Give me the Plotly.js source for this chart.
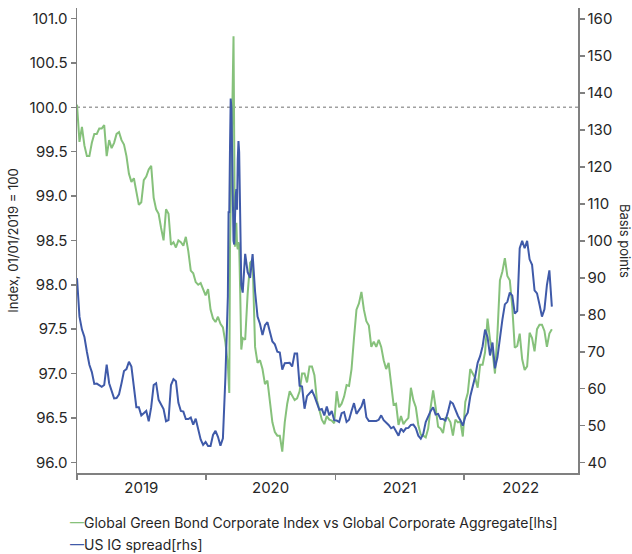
<!DOCTYPE html>
<html>
<head>
<meta charset="utf-8">
<script src="https://cdn.plot.ly/plotly-3.0.1.min.js"></script>
<style>
html,body{margin:0;padding:0;background:#fff;}
#chart{width:632px;height:554px;}
</style>
</head>
<body>
<div id="chart"></div>
<script>
const dates = [
'2019-01-01','2019-01-08','2019-01-15','2019-01-22','2019-01-29','2019-02-05','2019-02-12','2019-02-19','2019-02-26','2019-03-05',
'2019-03-12','2019-03-19','2019-03-26','2019-04-02','2019-04-09','2019-04-16','2019-04-23','2019-04-30','2019-05-07','2019-05-14',
'2019-05-21','2019-05-28','2019-06-04','2019-06-11','2019-06-18','2019-06-25','2019-07-02','2019-07-09','2019-07-16','2019-07-23',
'2019-07-30','2019-08-06','2019-08-13','2019-08-20','2019-08-27','2019-09-03','2019-09-10','2019-09-17','2019-09-24','2019-10-01',
'2019-10-08','2019-10-15','2019-10-22','2019-10-29','2019-11-05','2019-11-12','2019-11-19','2019-11-26','2019-12-03','2019-12-10',
'2019-12-17','2019-12-24','2019-12-31',
'2020-01-07','2020-01-14','2020-01-21','2020-01-28','2020-02-04','2020-02-11','2020-02-18','2020-02-25',
'2020-03-03','2020-03-05','2020-03-07','2020-03-09','2020-03-11','2020-03-13','2020-03-15','2020-03-17','2020-03-19','2020-03-21',
'2020-03-23','2020-03-25','2020-03-27','2020-03-29','2020-03-31','2020-04-02','2020-04-04','2020-04-07','2020-04-10','2020-04-14',
'2020-04-21','2020-04-28','2020-05-05','2020-05-12','2020-05-19','2020-05-26','2020-06-02','2020-06-09','2020-06-16','2020-06-23',
'2020-06-30','2020-07-07','2020-07-14','2020-07-21','2020-07-28','2020-08-04','2020-08-11','2020-08-18','2020-08-25','2020-09-01',
'2020-09-08','2020-09-15','2020-09-22','2020-09-29','2020-10-06','2020-10-13','2020-10-20','2020-10-27','2020-11-03','2020-11-10',
'2020-11-17','2020-11-24','2020-12-01','2020-12-08','2020-12-15','2020-12-22','2020-12-29',
'2021-01-05','2021-01-12','2021-01-19','2021-01-26','2021-02-02','2021-02-09','2021-02-16','2021-02-23','2021-03-02','2021-03-09',
'2021-03-16','2021-03-23','2021-03-30','2021-04-06','2021-04-13','2021-04-20','2021-04-27','2021-05-04','2021-05-11','2021-05-18',
'2021-05-25','2021-06-01','2021-06-08','2021-06-15','2021-06-22','2021-06-29','2021-07-06','2021-07-13','2021-07-20','2021-07-27',
'2021-08-03','2021-08-10','2021-08-17','2021-08-24','2021-08-31','2021-09-07','2021-09-14','2021-09-21','2021-09-28','2021-10-05',
'2021-10-12','2021-10-19','2021-10-26','2021-11-02','2021-11-09','2021-11-16','2021-11-23','2021-11-30','2021-12-07','2021-12-14',
'2021-12-21','2021-12-28',
'2022-01-04','2022-01-11','2022-01-18','2022-01-25','2022-02-01','2022-02-08','2022-02-15','2022-02-22','2022-03-01','2022-03-08',
'2022-03-15','2022-03-22','2022-03-29','2022-04-05','2022-04-12','2022-04-19','2022-04-26','2022-05-03','2022-05-10','2022-05-17',
'2022-05-24','2022-05-31','2022-06-07','2022-06-14','2022-06-21','2022-06-28','2022-07-05','2022-07-12','2022-07-19','2022-07-26',
'2022-08-02','2022-08-09','2022-08-16','2022-08-23','2022-08-30','2022-09-06'
];

// Global Green Bond Corporate Index vs Global Corporate Aggregate (lhs)
const greenIndex = [
100.03,99.61,99.78,99.57,99.45,99.45,99.60,99.70,99.70,99.76,
99.76,99.80,99.45,99.63,99.54,99.60,99.70,99.72,99.63,99.58,
99.45,99.25,99.16,99.20,99.05,98.90,98.93,99.18,99.22,99.30,
99.34,98.98,98.85,98.80,98.64,98.50,98.85,98.80,98.45,98.48,
98.42,98.50,98.48,98.44,98.54,98.38,98.16,98.13,98.03,98.00,
98.02,97.96,97.88,97.95,97.72,97.62,97.58,97.64,97.56,97.52,
97.35,
97.10,96.95,96.78,98.40,98.90,99.40,100.23,100.80,100.80,99.60,
98.43,98.65,98.70,98.45,98.40,98.48,98.45,97.90,97.27,97.40,
97.38,97.90,98.25,98.28,97.30,97.12,97.15,97.05,96.88,96.92,96.70,96.45,
96.34,96.30,96.30,96.12,96.45,96.66,96.80,96.75,96.70,96.72,96.80,97.00,
97.00,96.90,97.08,97.08,96.98,96.70,96.58,96.48,96.43,96.52,96.48,96.47,
96.44,96.80,96.62,96.66,96.74,96.87,96.86,97.05,97.40,97.72,97.79,97.92,
97.72,97.59,97.54,97.30,97.36,97.30,97.38,97.30,97.15,97.05,97.12,96.90,
96.65,96.66,96.42,96.52,96.43,96.47,96.50,96.84,96.70,96.62,96.42,96.31,
96.30,96.28,96.38,96.62,96.81,96.62,96.40,96.38,96.33,96.50,96.50,96.45,
96.30,96.48,96.45,96.46,96.29,96.68,96.78,97.05,97.00,96.95,96.84,97.10,
97.10,97.24,97.62,97.38,97.25,97.00,97.45,98.05,98.15,98.30,98.10,98.05,
97.75,97.29,97.31,97.45,97.16,97.04,97.08,97.46,97.40,97.25,97.50,97.55,
97.55,97.48,97.30,97.45,97.50
];

// US IG spread, basis points (rhs)
const usIgSpread = [
89.9,79.5,76.0,74.0,70.0,66.5,64.5,61.3,61.4,61.0,
60.5,61.0,66.5,61.5,59.3,57.4,57.5,58.5,61.5,64.8,
65.3,67.3,66.0,60.8,55.0,55.0,52.8,53.4,54.0,51.2,
55.0,61.0,61.5,57.0,55.6,54.5,51.2,51.5,61.0,62.6,
62.0,56.2,54.0,53.8,51.8,51.8,52.2,50.3,51.9,49.0,
46.3,44.8,45.6,44.5,44.5,47.5,48.6,47.0,44.6,46.6,
63.0,
85.0,108.0,107.5,125.0,138.5,136.0,125.0,106.0,100.0,99.0,
107.0,112.0,114.0,108.4,122.0,127.0,124.0,99.0,88.0,86.0,
96.5,91.5,90.0,96.4,86.3,79.5,77.5,74.5,77.2,78.0,75.0,72.8,
72.0,70.0,69.8,65.2,66.9,67.0,67.0,66.0,69.5,69.5,60.8,60.6,
54.6,58.0,58.8,59.5,58.0,56.0,54.3,54.5,52.8,55.2,52.8,54.0,
51.5,51.4,51.0,53.4,53.7,51.0,51.6,54.0,56.1,53.2,54.2,55.2,
57.2,52.3,51.3,51.3,51.4,51.3,51.6,52.8,51.5,50.9,50.2,49.3,
49.7,48.5,47.3,49.2,48.4,49.3,49.4,50.2,50.3,49.3,47.3,46.5,
47.8,51.0,52.6,54.0,55.0,53.0,53.2,51.8,51.8,51.4,53.8,56.5,
56.0,54.2,52.7,51.5,50.0,52.4,53.5,57.9,60.3,63.3,67.0,68.8,
71.5,76.0,73.9,69.0,72.5,65.5,68.5,74.2,78.7,82.8,83.5,86.0,
85.2,80.3,81.0,98.0,100.0,98.0,100.0,95.0,93.5,86.6,85.8,82.8,
79.5,81.5,88.0,92.0,82.2
];

const yearTickVals = ['2019-07-02','2020-07-02','2021-07-02','2022-06-10'];
const yearTickText = ['2019','2020','2021','2022'];
const yearBounds = ['2019-01-01','2020-01-01','2021-01-01','2022-01-01'];
const leftTicks = [96.0,96.5,97.0,97.5,98.0,98.5,99.0,99.5,100.0,100.5,101.0];
const rightTicks = [40,50,60,70,80,90,100,110,120,130,140,150,160];
const baseLevel = 100;

const seriesNames = ['Global Green Bond Corporate Index vs Global Corporate Aggregate[lhs]','US IG spread[rhs]'];
const GREEN = '#86c17b';
const BLUE = '#3f5aa9';
const FONT = 'Inter, "Noto Sans", sans-serif';
const AXC = '#808080';
const TXT = '#262626';

const traces = [
  {x: dates, y: greenIndex, type: 'scatter', mode: 'lines', name: seriesNames[0],
   line: {color: GREEN, width: 2}, yaxis: 'y', showlegend: false},
  {x: dates, y: usIgSpread, type: 'scatter', mode: 'lines', name: seriesNames[1],
   line: {color: BLUE, width: 2}, yaxis: 'y2', showlegend: false}
];

const layout = {
  width: 632, height: 554,
  margin: {l: 77, r: 54, t: 8, b: 81, pad: 0},
  paper_bgcolor: '#fff', plot_bgcolor: '#fff',
  font: {family: FONT, size: 15, color: TXT},
  showlegend: false,
  xaxis: {
    type: 'date', range: ['2019-01-01', '2022-11-19'],
    showline: true, linecolor: AXC, linewidth: 1.5,
    showgrid: false, zeroline: false,
    tickmode: 'array', tickvals: yearTickVals, ticktext: yearTickText,
    ticks: '', tickfont: {size: 15, color: TXT},
    minor: {tickmode: 'array', tickvals: yearBounds, ticks: 'outside', ticklen: 5, tickwidth: 1.5, tickcolor: AXC, showgrid: false}
  },
  yaxis: {
    range: [95.879, 101.119],
    showline: true, linecolor: AXC, linewidth: 1.5,
    showgrid: false, zeroline: false,
    tickmode: 'array', tickvals: leftTicks, tickformat: '.1f',
    ticks: 'outside', ticklen: 5, tickwidth: 1.5, tickcolor: AXC,
    tickfont: {size: 15, color: TXT},
    title: {text: 'Index, 01/01/2019 = 100', font: {size: 13, color: TXT}, standoff: 8}
  },
  yaxis2: {
    overlaying: 'y', side: 'right',
    range: [37.21, 162.97],
    showline: true, linecolor: AXC, linewidth: 1.5,
    showgrid: false, zeroline: false,
    tickmode: 'array', tickvals: rightTicks,
    ticks: 'outside', ticklen: 5, tickwidth: 1.5, tickcolor: AXC,
    tickfont: {size: 15, color: TXT}
  },
  shapes: [
    {type: 'line', xref: 'paper', x0: 0, x1: 1, yref: 'y', y0: baseLevel, y1: baseLevel,
     line: {color: '#a0a0a0', width: 1.5, dash: 'dot'}, layer: 'below'}
  ],
  annotations: [
    {xref: 'paper', yref: 'paper', x: 1.095, y: 0.5, xanchor: 'center', yanchor: 'middle',
     text: 'Basis points', textangle: 90, showarrow: false, font: {size: 13, color: TXT}},
    {xref: 'paper', yref: 'paper', x: -0.018, y: -0.1054, xanchor: 'left', yanchor: 'middle', showarrow: false,
     text: '<span style="color:' + GREEN + '">—</span>' + seriesNames[0], font: {size: 14, color: TXT}},
    {xref: 'paper', yref: 'paper', x: -0.018, y: -0.1527, xanchor: 'left', yanchor: 'middle', showarrow: false,
     text: '<span style="color:' + BLUE + '">—</span>' + seriesNames[1], font: {size: 14, color: TXT}}
  ]
};

Plotly.newPlot('chart', traces, layout, {staticPlot: true, displayModeBar: false});
</script>
</body>
</html>
